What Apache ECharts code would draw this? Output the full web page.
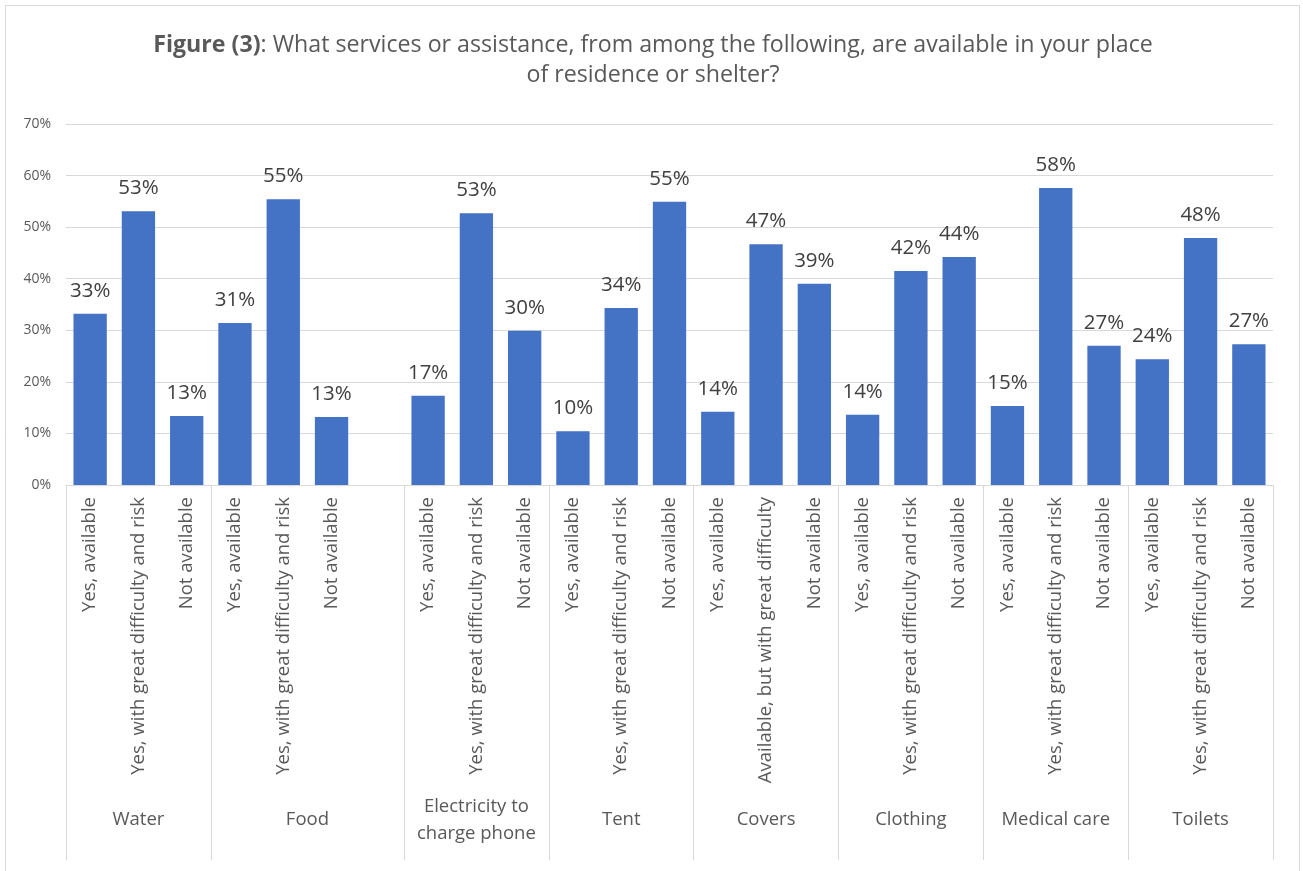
<!DOCTYPE html>
<html>
<head>
<meta charset="utf-8">
<script src="https://cdn.jsdelivr.net/npm/echarts@6/dist/echarts.min.js"></script>
<style>
  html, body { margin: 0; padding: 0; background: #ffffff; }
  #chart { width: 1303px; height: 871px; }
</style>
</head>
<body>
<div id="chart"></div>
<script>
// Answer options per slot (an empty slot separates Food from Electricity)
const itemLabels = [
  'Yes, available', 'Yes, with great difficulty and risk', 'Not available',
  'Yes, available', 'Yes, with great difficulty and risk', 'Not available', '',
  'Yes, available', 'Yes, with great difficulty and risk', 'Not available',
  'Yes, available', 'Yes, with great difficulty and risk', 'Not available',
  'Yes, available', 'Available, but with great difficulty', 'Not available',
  'Yes, available', 'Yes, with great difficulty and risk', 'Not available',
  'Yes, available', 'Yes, with great difficulty and risk', 'Not available',
  'Yes, available', 'Yes, with great difficulty and risk', 'Not available'
];

// Share of respondents (%) per slot
const shares = [
  33.2, 53.1, 13.4,
  31.4, 55.4, 13.2, null,
  17.3, 52.7, 29.9,
  10.4, 34.3, 54.9,
  14.2, 46.7, 39.0,
  13.6, 41.5, 44.2,
  15.3, 57.6, 27.0,
  24.4, 47.9, 27.3
];

// Service groups and how many slots each one spans
const groupNames = ['Water', 'Food', 'Electricity to\ncharge phone', 'Tent', 'Covers', 'Clothing', 'Medical care', 'Toilets'];
const groupSpans = [3, 4, 3, 3, 3, 3, 3, 3];

// Y axis tick labels
const yTicks = [0, 10, 20, 30, 40, 50, 60, 70];

const FONT = '"Open Sans", "Noto Sans", sans-serif';
const TEXT = '#595959';
const GRID_LINE = '#d9d9d9';

// Slot indices where a group starts
const groupStarts = [];
groupSpans.reduce(function (acc, n) { groupStarts.push(acc); return acc + n; }, 0);

const chart = echarts.init(document.getElementById('chart'), null, { renderer: 'canvas' });

const option = {
  backgroundColor: '#ffffff',
  animation: false,
  grid: { left: 66, right: 30, top: 124, bottom: 386, containLabel: false },
  xAxis: [
    {
      type: 'category',
      data: itemLabels,
      position: 'bottom',
      axisLine: { show: true, lineStyle: { color: GRID_LINE, width: 1 } },
      axisTick: { show: false },
      axisLabel: {
        rotate: 90,
        interval: 0,
        margin: 12,
        fontFamily: FONT,
        fontSize: 18.5,
        color: TEXT
      }
    },
    {
      // Group separators running down through the label area
      type: 'category',
      data: itemLabels,
      position: 'bottom',
      axisLine: { show: false },
      axisLabel: { show: false },
      axisTick: {
        show: true,
        length: 375,
        interval: function (index) { return groupStarts.indexOf(index) !== -1; },
        lineStyle: { color: GRID_LINE, width: 1 }
      },
      splitLine: { show: false }
    }
  ],
  yAxis: {
    type: 'value',
    min: 0,
    max: 70,
    interval: 10,
    axisLine: { show: false },
    axisTick: { show: false },
    splitLine: { lineStyle: { color: GRID_LINE, width: 1 } },
    axisLabel: {
      margin: 15,
      fontFamily: FONT,
      fontSize: 14,
      color: TEXT,
      formatter: function (v) { return yTicks.indexOf(v) !== -1 ? v + '%' : ''; }
    }
  },
  series: [
    {
      type: 'bar',
      data: shares,
      barCategoryGap: '31%',
      itemStyle: { color: '#4472C4' },
      label: {
        show: true,
        position: 'top',
        distance: 12.5,
        fontFamily: FONT,
        fontSize: 20.5,
        color: '#404040',
        formatter: function (p) { return p.value == null ? '' : Math.round(p.value) + '%'; }
      }
    }
  ]
};

chart.setOption(option);

// Title, group names centred under the slots each group spans, and the outer frame
function placeDecorations() {
  const bottomY = chart.convertToPixel({ yAxisIndex: 0 }, 0);
  const items = [
    {
      type: 'rect',
      shape: { x: 5.5, y: 5.5, width: 1294, height: 900 },
      style: { fill: 'none', stroke: GRID_LINE, lineWidth: 1 },
      silent: true
    },
    {
      type: 'text',
      x: 653,
      y: 30,
      style: {
        text: '{b|Figure (3)}: What services or assistance, from among the following, are available in your place\nof residence or shelter?',
        fontFamily: FONT,
        fontSize: 23.2,
        fill: TEXT,
        align: 'center',
        verticalAlign: 'top',
        lineHeight: 30,
        rich: {
          b: { fontFamily: FONT, fontSize: 23.2, fontWeight: 'bold', fill: TEXT, lineHeight: 30 }
        }
      },
      silent: true
    }
  ];
  groupNames.forEach(function (name, i) {
    const first = groupStarts[i];
    const last = first + groupSpans[i] - 1;
    const x0 = chart.convertToPixel({ xAxisIndex: 0 }, first);
    const x1 = chart.convertToPixel({ xAxisIndex: 0 }, last);
    items.push({
      type: 'text',
      x: (x0 + x1) / 2,
      y: bottomY + 335,
      style: {
        text: name,
        fontFamily: FONT,
        fontSize: 18.5,
        fill: TEXT,
        align: 'center',
        verticalAlign: 'middle',
        lineHeight: 27
      },
      silent: true
    });
  });
  chart.setOption({ graphic: { elements: items } });
}
placeDecorations();
</script>
</body>
</html>
